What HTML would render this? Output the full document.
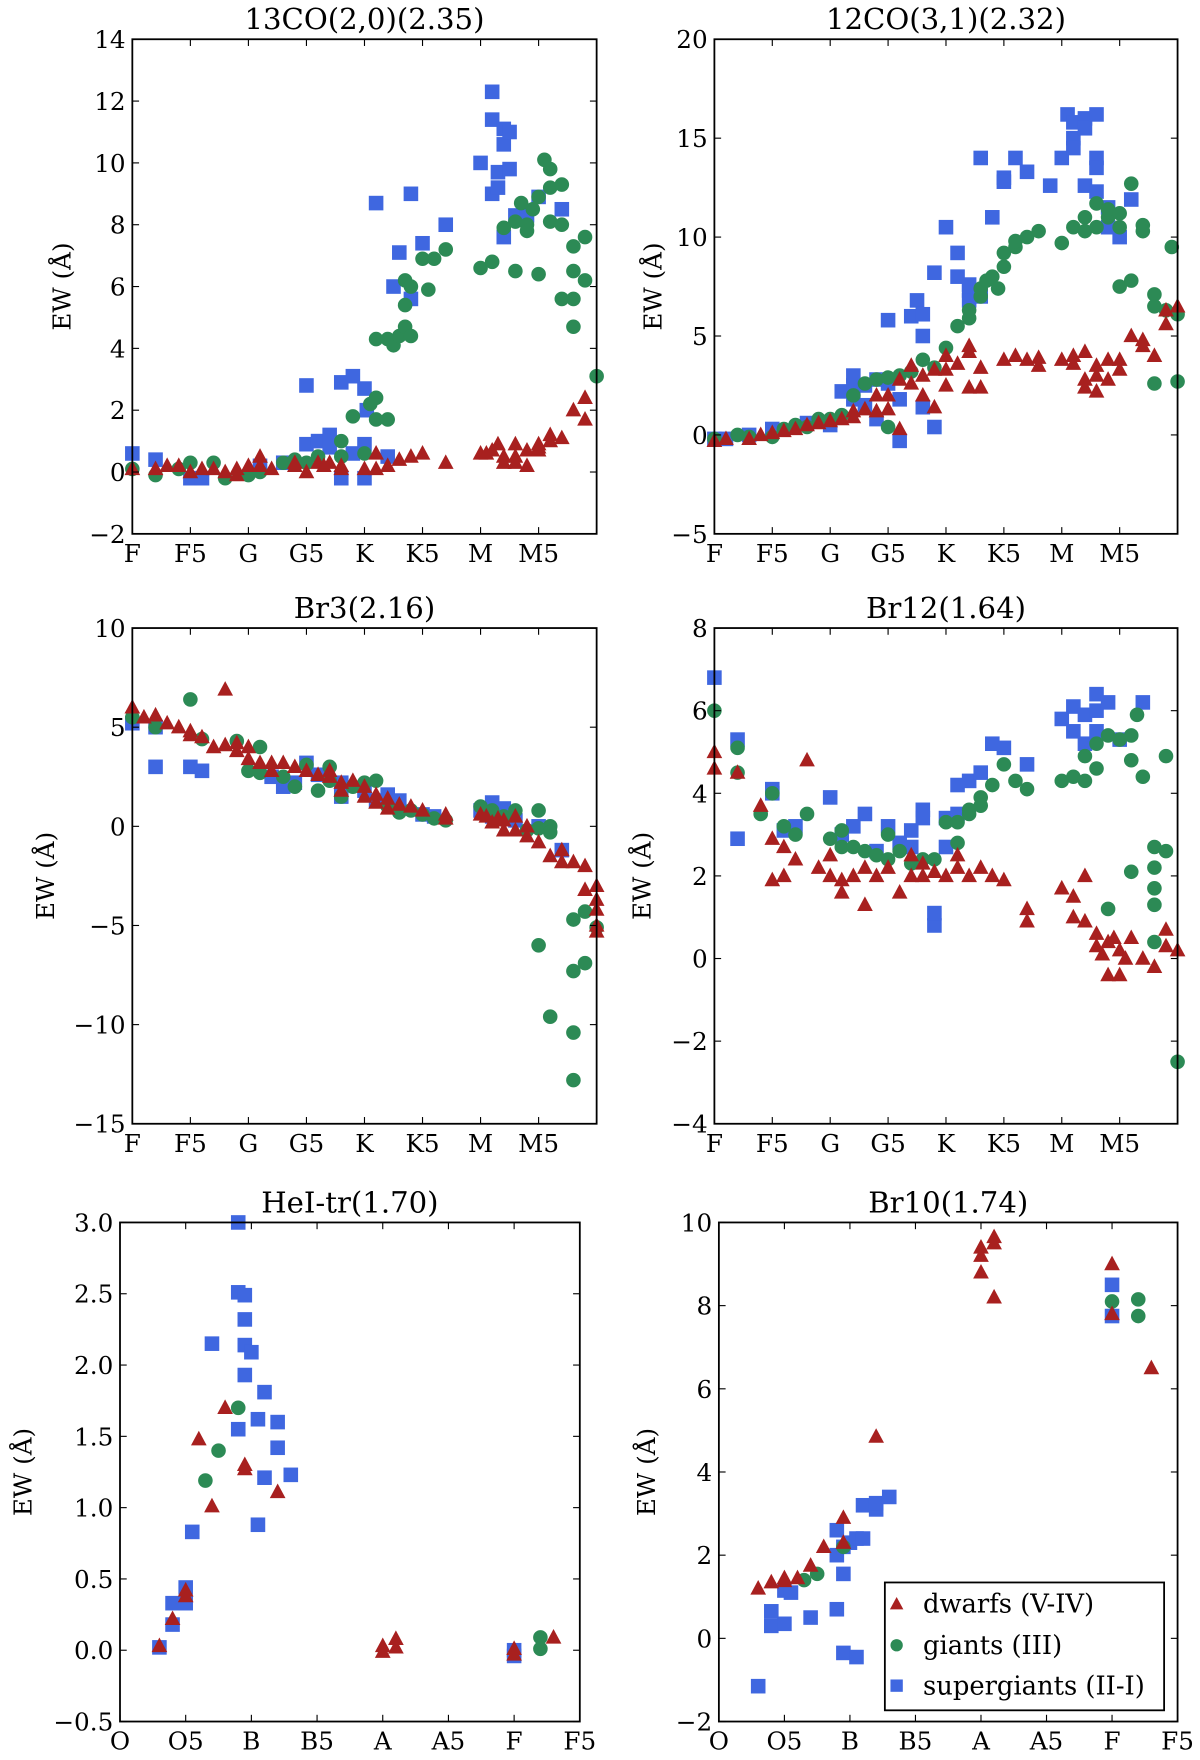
<!DOCTYPE html>
<html><head><meta charset="utf-8"><style>
html,body{margin:0;padding:0;background:#fff;}
svg{display:block;}
text{font-family:"DejaVu Serif","Liberation Serif",serif;fill:#000;}
</style></head><body>
<svg id="fig" width="1200" height="1760" viewBox="0 0 1070 1569.3" preserveAspectRatio="none" xmlns="http://www.w3.org/2000/svg"></svg>
<script>
// ---- data (x = spectral subclass index, y = EW in Angstrom) ----
const ticksLateX = ["F","F5","G","G5","K","K5","M","M5"];
const ticksEarlyX = ["O","O5","B","B5","A","A5","F","F5"];

const co13Dwarfs = [[0,0.1],[2,0.1],[3,0.2],[4,0.2],[5,0],[6,0.1],[7,0.1],[8,0],[9,-0.1],[9,0.1],[10,0.2],[11,0.5],[11,0.2],[12,0.1],[14,0.3],[14,0.2],[15,0],[16,0.3],[16.5,0.2],[17,0.3],[18,0.2],[18,0.1],[20,0.1],[21,0.6],[21,0.1],[22,0.2],[23,0.4],[24,0.5],[25,0.6],[27,0.3],[30,0.6],[30.5,0.6],[31,0.7],[31.5,0.9],[32,0.5],[32,0.3],[33,0.9],[33,0.5],[33,0.3],[34,0.2],[34,0.7],[35,0.9],[35,0.8],[35,0.7],[36,1.2],[36,1.0],[37,1.1],[38,2.0],[39,2.4],[39,1.7]];
const co13Giants = [[0,0.1],[2,-0.1],[4,0.1],[5,0.3],[7,0.3],[8,-0.2],[10,-0.1],[11,0],[13,0.3],[14,0.4],[15,0.3],[16,0.5],[18,1.0],[18,0.5],[19,1.8],[20,0.6],[20.5,2.2],[21,2.4],[21,1.7],[22,1.7],[21,4.3],[22,4.3],[22.5,4.1],[23,4.4],[23.5,4.7],[23.5,6.2],[24,6.0],[23.5,5.4],[24,4.4],[25,6.9],[26,6.9],[25.5,5.9],[27,7.2],[30,6.6],[31,6.8],[32,7.9],[33,6.5],[33,8.1],[33.5,8.7],[34,8.0],[34,7.8],[34.5,8.5],[35,8.9],[35,6.4],[35.5,10.1],[36,9.8],[36,9.2],[36,8.1],[37,9.3],[37,8.0],[37,5.6],[38,7.3],[38,6.5],[38,5.6],[38,4.7],[39,7.6],[39,6.2],[40,3.1]];
const co13Super = [[0,0.6],[2,0.4],[5,-0.2],[6,-0.2],[11,0.2],[13,0.3],[15,0.9],[16,1.0],[15,2.8],[17,1.2],[17,0.8],[18,-0.2],[19,0.6],[18,2.9],[19,3.1],[20,2.7],[20,0.9],[20,-0.2],[21,8.7],[20.2,2.0],[22,0.5],[23,7.1],[22.5,6.0],[24,9.0],[24,5.6],[25,7.4],[27,8.0],[30,10.0],[31,12.3],[31,11.4],[31,9.0],[31.5,9.7],[31.5,9.2],[32,11.1],[32,10.6],[32,7.6],[32.5,11.0],[32.5,9.8],[33,8.3],[34,8.3],[35,8.9],[37,8.5]];

const co12Dwarfs = [[0,-0.3],[1,-0.2],[3,-0.2],[4,0],[5,0.1],[6,0.2],[7,0.3],[8,0.5],[9,0.6],[10,0.7],[11,0.8],[12,1.2],[12,0.9],[13,1.3],[14,1.2],[14,2.0],[15,2.0],[15,1.3],[16,2.8],[16,0.3],[17,2.6],[17,3.5],[18,3.0],[18,2.0],[19,1.4],[19,3.3],[20,4.0],[20,3.3],[20,2.5],[21,3.6],[22,2.4],[22,4.5],[22,4.2],[23,2.4],[23,3.4],[25,3.8],[26,4.0],[27,3.8],[28,3.9],[28,3.5],[30,3.8],[31,3.6],[31,4.0],[32,4.2],[32,2.8],[32,2.4],[33,3.0],[33,3.5],[33,2.2],[34,2.8],[34,3.8],[35,3.8],[35,3.3],[36,5.0],[37,4.8],[37,4.5],[38,4.0],[39,5.6],[40,6.5],[39,6.3]];
const co12Giants = [[0,-0.2],[2,0],[3,-0.1],[5,-0.1],[6,0.3],[7,0.5],[8,0.4],[9,0.8],[10,0.8],[11,1.0],[12,2.0],[13,2.6],[14,2.8],[15,2.9],[15,0.4],[16,3.0],[17,3.2],[18,3.8],[19,3.4],[20,4.4],[21,5.5],[22,5.9],[22,6.3],[23,7.0],[23,7.4],[23.5,7.8],[24,8.0],[24.5,7.4],[25,8.5],[25,9.2],[26,9.5],[26,9.8],[27,10.0],[28,10.3],[30,9.7],[31,10.5],[32,10.3],[32,11.0],[33,10.5],[33,11.7],[34,11.0],[34,11.4],[35,11.2],[35,10.5],[35,7.5],[36,12.7],[36,7.8],[37,10.6],[37,10.3],[38,7.1],[38,6.5],[39,6.3],[38,2.6],[40,2.7],[40,6.1],[39.5,9.5]];
const co12Super = [[0,-0.2],[1,-0.2],[3,0],[5,0.3],[8,0.6],[10,0.5],[11,2.2],[12,1.8],[12,2.5],[12,3],[13,2.5],[13,1.5],[14,0.8],[14,2.8],[15,2.6],[15,5.8],[16,-0.3],[16,1.8],[17,6.0],[17.5,6.8],[18,6.1],[18,5.0],[18,1.4],[19,8.2],[19,0.4],[20,10.5],[21,9.2],[21,8.0],[22,7.6],[22,7.3],[22,6.8],[23,14.0],[23,7.0],[24,11.0],[25,13.0],[25,12.8],[26,14.0],[27,13.3],[29,12.6],[30,14.0],[30.5,16.2],[31,15.0],[31,14.5],[31,15.8],[32,16.0],[32,15.5],[32,12.6],[33,16.2],[33,14.0],[33,13.5],[33,12.3],[34,10.5],[34,11.5],[35,10.0],[36,11.9]];

const br3Dwarfs = [[0,6.0],[1,5.5],[2,5.6],[3,5.2],[4,5.0],[5,4.8],[5,4.6],[6,4.5],[7,4.0],[8,6.9],[8,4.1],[9,4.2],[9,3.8],[10,3.4],[10,4.0],[11,3.2],[12,2.8],[12,3.2],[13,3.2],[14,3.0],[15,2.8],[16,2.6],[17,2.8],[17,2.5],[18,2.2],[18,1.8],[19,2.3],[20,2.0],[20,1.5],[21,1.6],[21,1.2],[22,1.4],[22,0.9],[23,1.1],[24,1.0],[25,0.8],[27,0.6],[27,0.4],[30,0.6],[30.5,0.5],[31,0.2],[31.5,0.4],[32,-0.2],[32,0.3],[33,-0.2],[33,0.5],[34,0],[34,-0.5],[35,-0.8],[36,-1.5],[37,-1.2],[37,-1.8],[38,-1.8],[39,-2.0],[39,-3.2],[40,-3.0],[40,-3.7],[40,-4.2],[40,-5.0],[40,-5.3]];
const br3Giants = [[0,5.5],[2,5.0],[5,6.4],[6,4.4],[9,4.3],[10,2.8],[11,4.0],[11,2.7],[13,2.5],[14,2.0],[15,3.1],[16,1.8],[17,3.0],[17,2.3],[18,1.5],[19,2.0],[20,2.2],[21,2.3],[22,1.0],[23,0.7],[24,0.8],[25,0.6],[26,0.4],[27,0.3],[30,1.0],[31,0.8],[32,0.5],[33,0.8],[34,-0.2],[35,0.8],[35,-0.1],[36,0],[36,-0.3],[35,-6.0],[36,-9.6],[38,-4.7],[39,-4.3],[38,-7.3],[39,-6.9],[38,-10.4],[38,-12.8],[40,-5.1]];
const br3Super = [[0,5.2],[2,5.0],[2,3.0],[5,3.0],[6,2.8],[12,2.5],[13,2.0],[14,2.2],[15,3.2],[16,2.6],[18,1.5],[18,2.2],[20,1.8],[21,1.3],[22,1.6],[23,1.3],[25,0.6],[26,0.5],[30,0.8],[31,1.2],[31,0.5],[32,0.9],[33,0.3],[35,0],[37,-1.2]];

const br12Dwarfs = [[0,5.0],[0,4.6],[2,4.5],[4,3.7],[5,2.9],[5,1.9],[6,2.0],[6,2.7],[7,2.4],[8,4.8],[9,2.2],[10,2.0],[10,2.5],[11,1.9],[11,1.6],[12,2.0],[13,2.2],[13,1.3],[14,2.0],[15,2.2],[16,1.6],[17,2.0],[17,2.5],[18,2.3],[18,2.0],[19,2.1],[20,2.0],[21,2.2],[21,2.5],[22,2.0],[23,2.2],[24,2.0],[25,1.9],[27,1.2],[27,0.9],[30,1.7],[31,1.5],[31,1.0],[32,2.0],[32,0.9],[33,0.6],[33,0.3],[33.5,0.1],[34,0.4],[34,-0.4],[34.5,0.5],[35,0.2],[35,-0.4],[35.5,0],[36,0.5],[37,0],[38,-0.2],[39,0.7],[39,0.3],[40,0.2]];
const br12Giants = [[0,6.0],[2,5.1],[2,4.5],[4,3.5],[5,4.0],[6,3.2],[7,3.0],[8,3.5],[10,2.9],[11,2.7],[11,3.1],[12,2.7],[13,2.6],[14,2.5],[15,3.0],[15,2.4],[16,2.6],[17,2.3],[18,2.4],[19,2.4],[20,3.3],[21,3.3],[21,2.8],[22,3.5],[22,3.6],[23,3.9],[23,3.7],[24,4.2],[25,4.7],[26,4.3],[27,4.1],[30,4.3],[31,4.4],[32,4.9],[32,4.3],[33,4.6],[33,5.2],[34,5.4],[35,5.3],[36,4.8],[36,5.4],[36.5,5.9],[37,4.4],[38,2.7],[38,2.2],[38,1.7],[38,1.3],[38,0.4],[39,2.6],[39,4.9],[36,2.1],[34,1.2],[40,-2.5]];
const br12Super = [[0,6.8],[2,5.3],[2,2.9],[5,4.0],[5,4.1],[6,3.1],[7,3.2],[10,3.9],[11,3.0],[12,3.2],[13,3.5],[14,2.6],[15,3.2],[16,2.8],[17,3.1],[17,2.7],[18,3.4],[18,3.6],[19,0.8],[19,1.1],[20,3.4],[20,2.7],[21,3.5],[21,4.2],[22,4.3],[23,4.5],[24,5.2],[25,5.1],[27,4.7],[30,5.8],[31,6.1],[31,5.5],[32,5.2],[32,5.9],[33,6.0],[33,6.4],[33,5.5],[34,6.2],[35,5.3],[37,6.2]];

const heiDwarfs = [[3,0.03],[4,0.22],[5,0.42],[5,0.38],[6,1.48],[7,1.01],[8,1.70],[9.5,1.30],[9.5,1.27],[12,1.11],[20,-0.01],[20,0.03],[21,0.08],[21,0.02],[30,0.01],[30,-0.03],[33,0.09]];
const heiGiants = [[6.5,1.19],[7.5,1.40],[9,1.70],[32,0.09],[32,0.01]];
const heiSuper = [[3,0.02],[4,0.18],[4,0.33],[5,0.33],[5,0.44],[5.5,0.83],[7,2.15],[9,3.0],[9,2.51],[9,1.55],[9.5,2.49],[9.5,2.32],[9.5,2.14],[9.5,1.93],[10,2.09],[10.5,1.62],[10.5,0.88],[11,1.81],[11,1.21],[12,1.60],[12,1.42],[13,1.23],[30,-0.04],[30,0.0]];

const br10Dwarfs = [[3,1.2],[4,1.35],[5,1.45],[5,1.38],[6,1.45],[7,1.75],[8,2.2],[9.5,2.9],[9.5,2.3],[12,4.85],[20,9.4],[20,9.2],[20,8.8],[21,9.65],[21,9.5],[21,8.2],[30,9.0],[30,7.8],[33,6.5]];
const br10Giants = [[6.5,1.4],[7.5,1.55],[9.5,2.2],[30,8.1],[32,8.15],[32,7.75]];
const br10Super = [[3,-1.15],[4,0.65],[4,0.3],[5,0.35],[5,1.15],[5.5,1.1],[7,0.5],[9,2.6],[9,2.0],[9,0.7],[9.5,2.2],[9.5,1.55],[9.5,-0.35],[10,2.3],[10.5,-0.45],[10.5,2.4],[11,3.2],[11,2.4],[12,3.1],[12,3.25],[13,3.4],[30,8.5],[30,7.75]];

// ---- layout ----
const NS='http://www.w3.org/2000/svg';
const svg=document.getElementById('fig');
const RED='#a8201f', GREEN='#2c8a55', BLUE='#3f67e0';
function mk(tag,attrs,parent){const e=document.createElementNS(NS,tag);for(const k in attrs)e.setAttribute(k,attrs[k]);(parent||svg).appendChild(e);return e;}

function panel(cfg){
  const g=mk('g',{});
  
  
  const {x0,x1,y0,y1,ymin,ymax,xmax}=cfg;
  const sx=v=>x0+(v/xmax)*(x1-x0);
  const sy=v=>y1-(v-ymin)/(ymax-ymin)*(y1-y0);
  const t=mk('text',{x:(x0+x1)/2,y:y0-9,'text-anchor':'middle','font-size':26},g);
  t.textContent=cfg.title;
  
  
  const yl=mk('text',{x:0,y:0,'text-anchor':'middle','font-size':22,transform:`translate(${cfg.ylx},${(y0+y1)/2}) rotate(-90)`},g);
  yl.textContent='EW (Å)';
  
  
  const series=[[cfg.dw,'tri',RED,'dwarfs'],[cfg.gi,'circ',GREEN,'giants'],[cfg.su,'sq',BLUE,'supergiants']];
  [series[2],series[1],series[0]].forEach(([data,shape,col,nm])=>{
    data.forEach(p=>{
      const cx=sx(p[0]), cy=sy(p[1]);
      let m;
      if(shape==='sq') m=mk('rect',{x:cx-6.5,y:cy-6.5,width:13,height:13,fill:col},g);
      else if(shape==='circ') m=mk('circle',{cx:cx,cy:cy,r:6.5,fill:col},g);
      else m=mk('polygon',{points:`${cx},${cy-7.5} ${cx-7},${cy+5.5} ${cx+7},${cy+5.5}`,fill:col},g);
      
      
    });
  });
  const fr=mk('rect',{x:x0,y:y0,width:x1-x0,height:y1-y0,fill:'none',stroke:'#000','stroke-width':1.6},g);
  
  
  cfg.xt.forEach((lab,i)=>{
    const xv=sx(i*5);
    mk('line',{x1:xv,x2:xv,y1:y1,y2:y1-6,stroke:'#000','stroke-width':1},g);
    mk('line',{x1:xv,x2:xv,y1:y0,y2:y0+6,stroke:'#000','stroke-width':1},g);
    const tl=mk('text',{x:xv,y:y1+25,'text-anchor':'middle','font-size':22},g);
    tl.textContent=lab;
    
    
  });
  for(let v=ymin; v<=ymax+1e-9; v+=cfg.ystep){
    const yv=sy(v);
    mk('line',{x1:x0,x2:x0+6,y1:yv,y2:yv,stroke:'#000','stroke-width':1},g);
    mk('line',{x1:x1,x2:x1-6,y1:yv,y2:yv,stroke:'#000','stroke-width':1},g);
    let s=cfg.dec?v.toFixed(1):String(Math.round(v));
    s=s.replace('-','\u2212');
    const tl=mk('text',{x:x0-6,y:yv+8,'text-anchor':'end','font-size':22},g);
    tl.textContent=s;
    
    
  }
}

panel({name:'panel-13co',title:'13CO(2,0)(2.35)',x0:118,x1:532,y0:35,y1:476,ymin:-2,ymax:14,ystep:2,xmax:40,xt:ticksLateX,ylx:63,dw:co13Dwarfs,gi:co13Giants,su:co13Super});
panel({name:'panel-12co',title:'12CO(3,1)(2.32)',x0:637,x1:1050,y0:35,y1:476,ymin:-5,ymax:20,ystep:5,xmax:40,xt:ticksLateX,ylx:590,dw:co12Dwarfs,gi:co12Giants,su:co12Super});
panel({name:'panel-br3',title:'Br3(2.16)',x0:118,x1:532,y0:560,y1:1002,ymin:-15,ymax:10,ystep:5,xmax:40,xt:ticksLateX,ylx:48,dw:br3Dwarfs,gi:br3Giants,su:br3Super});
panel({name:'panel-br12',title:'Br12(1.64)',x0:637,x1:1050,y0:560,y1:1002,ymin:-4,ymax:8,ystep:2,xmax:40,xt:ticksLateX,ylx:580,dw:br12Dwarfs,gi:br12Giants,su:br12Super});
panel({name:'panel-hei',title:'HeI-tr(1.70)',x0:107,x1:517,y0:1090,y1:1535,ymin:-0.5,ymax:3.0,ystep:0.5,dec:true,xmax:35,xt:ticksEarlyX,ylx:28,dw:heiDwarfs,gi:heiGiants,su:heiSuper});
panel({name:'panel-br10',title:'Br10(1.74)',x0:641,x1:1050,y0:1090,y1:1535,ymin:-2,ymax:10,ystep:2,xmax:35,xt:ticksEarlyX,ylx:584,dw:br10Dwarfs,gi:br10Giants,su:br10Super});

const lg=mk('g',{});


mk('rect',{x:789,y:1411,width:249,height:114,fill:'#fff',stroke:'#000','stroke-width':1.6},lg);
const le=[['tri',RED,'dwarfs (V-IV)',1430],['circ',GREEN,'giants (III)',1467],['sq',BLUE,'supergiants (II-I)',1503]];
le.forEach(([sh,col,lab,y])=>{
  const ent=mk('g',{},lg);
  
  
  if(sh==='sq') mk('rect',{x:794,y:y-5.5,width:11,height:11,fill:col},ent);
  else if(sh==='circ') mk('circle',{cx:799.5,cy:y,r:5.5,fill:col},ent);
  else mk('polygon',{points:`799.5,${y-6} 793.5,${y+5} 805.5,${y+5}`,fill:col},ent);
  const t=mk('text',{x:823,y:y+8,'font-size':23},ent);
  t.textContent=lab;
});
</script>
</body></html>
